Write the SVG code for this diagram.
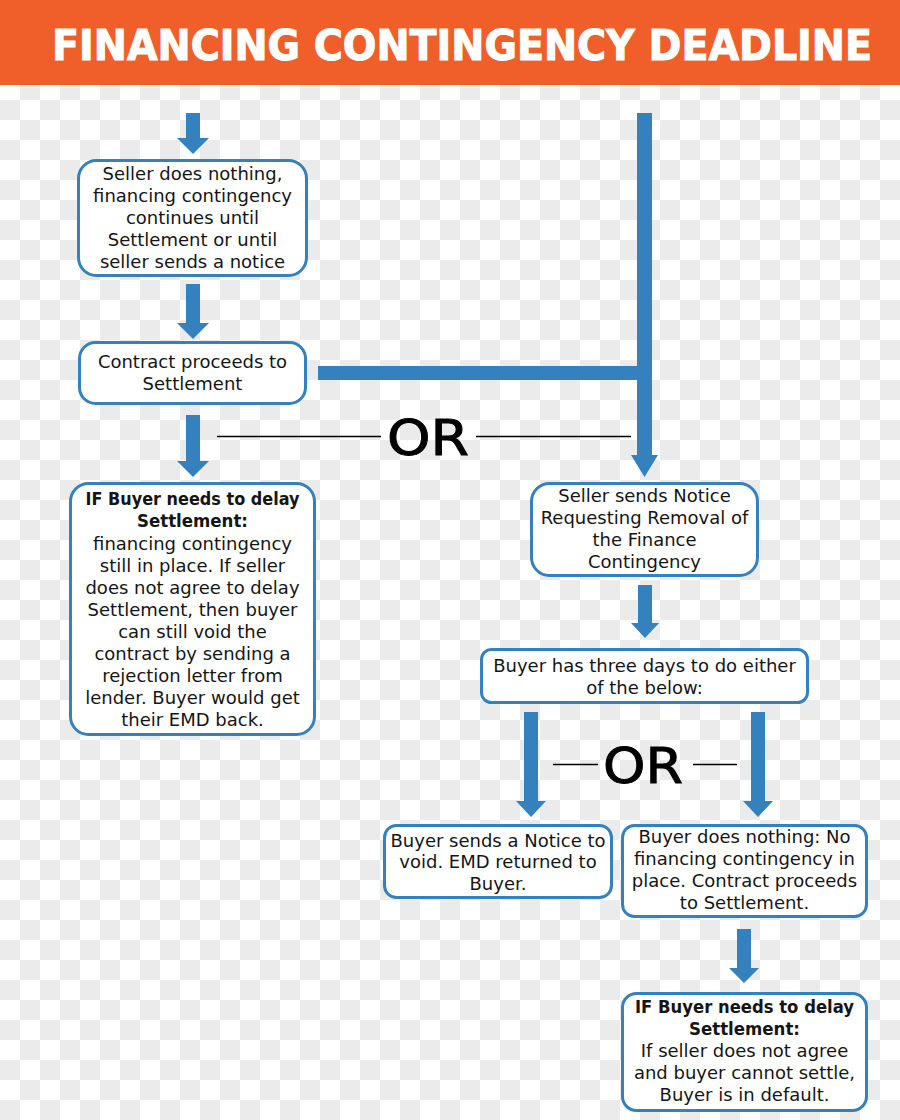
<svg xmlns="http://www.w3.org/2000/svg" width="900" height="1120" viewBox="0 0 900 1120">
  <defs>
    <pattern id="checker" x="0" y="0" width="40" height="40" patternUnits="userSpaceOnUse">
      <rect x="0" y="0" width="40" height="40" fill="#ffffff"/>
      <rect x="20" y="0" width="20" height="20" fill="#ebebeb"/>
      <rect x="0" y="20" width="20" height="20" fill="#ebebeb"/>
    </pattern>
  </defs>
  <style>
    .box { fill: #ffffff; stroke: #3581be; stroke-width: 3; }
    .arrow { fill: #3581be; }
    .t { font-family: "DejaVu Sans", "Liberation Sans", sans-serif; font-size: 18px; fill: #151515; text-anchor: middle; }
    .b { font-weight: bold; }
    .or { font-family: "DejaVu Sans", "Liberation Sans", sans-serif; font-size: 50px; fill: #000000; stroke: #000000; stroke-width: 1; }
    .rule { stroke: #000000; stroke-width: 1.5; }
    .title { font-family: "DejaVu Sans", "Liberation Sans", sans-serif; font-weight: bold; font-size: 40px; fill: #ffffff; stroke: #ffffff; stroke-width: 1; }
  </style>

  <rect x="0" y="0" width="900" height="1120" fill="url(#checker)"/>

  <g id="header">
    <rect x="0" y="0" width="900" height="85" fill="#f05f2a"/>
    <text class="title" x="0" y="0" transform="translate(52,60) scale(1,1.06)" textLength="820" lengthAdjust="spacingAndGlyphs">FINANCING CONTINGENCY DEADLINE</text>
  </g>

  <g id="connectors">
    <path class="arrow" d="M186,113 H200 V138 H209 L193,154 L177,138 H186 Z"/>
    <path class="arrow" d="M186,284 H200 V323 H209 L193,339 L177,323 H186 Z"/>
    <path class="arrow" d="M186,415 H200 V461 H209 L193,477 L177,461 H186 Z"/>
    <rect class="arrow" x="318" y="366" width="334" height="14"/>
    <path class="arrow" d="M637,113 H652 V455 H658 L644.5,477 L631,455 H637 Z"/>
    <path class="arrow" d="M638,585 H652 V623 H659 L645,638 L631,623 H638 Z"/>
    <path class="arrow" d="M524,712 H538 V801 H546 L531,817 L516,801 H524 Z"/>
    <path class="arrow" d="M751,712 H765 V801 H773 L758,817 L743,801 H751 Z"/>
    <path class="arrow" d="M737,929 H751 V968 H759 L744,983 L729,968 H737 Z"/>
  </g>

  <g id="or1">
    <line class="rule" x1="217" y1="436.5" x2="381" y2="436.5"/>
    <text class="or" x="387" y="455" textLength="82" lengthAdjust="spacingAndGlyphs">OR</text>
    <line class="rule" x1="476" y1="436.5" x2="631" y2="436.5"/>
  </g>

  <g id="or2">
    <line class="rule" x1="553" y1="764.5" x2="598" y2="764.5"/>
    <text class="or" x="603" y="783" textLength="80" lengthAdjust="spacingAndGlyphs">OR</text>
    <line class="rule" x1="693" y1="764.5" x2="737" y2="764.5"/>
  </g>

  <g id="node-seller-nothing">
    <rect class="box" x="78.5" y="160.5" width="228" height="115" rx="18"/>
    <text class="t" x="192.5" y="180">Seller does nothing,</text>
    <text class="t" x="192.5" y="202">financing contingency</text>
    <text class="t" x="192.5" y="224">continues until</text>
    <text class="t" x="192.5" y="246">Settlement or until</text>
    <text class="t" x="192.5" y="268">seller sends a notice</text>
  </g>

  <g id="node-contract-proceeds">
    <rect class="box" x="79.5" y="342.5" width="226" height="61" rx="16"/>
    <text class="t" x="192.5" y="368">Contract proceeds to</text>
    <text class="t" x="192.5" y="390">Settlement</text>
  </g>

  <g id="node-buyer-delay-1">
    <rect class="box" x="70.5" y="483.5" width="244" height="251" rx="18"/>
    <text class="t b" x="192.5" y="505" textLength="214" lengthAdjust="spacingAndGlyphs">IF Buyer needs to delay</text>
    <text class="t b" x="192.5" y="527" textLength="111" lengthAdjust="spacingAndGlyphs">Settlement:</text>
    <text class="t" x="192.5" y="550">financing contingency</text>
    <text class="t" x="192.5" y="572">still in place. If seller</text>
    <text class="t" x="192.5" y="594">does not agree to delay</text>
    <text class="t" x="192.5" y="616">Settlement, then buyer</text>
    <text class="t" x="192.5" y="638">can still void the</text>
    <text class="t" x="192.5" y="660">contract by sending a</text>
    <text class="t" x="192.5" y="682">rejection letter from</text>
    <text class="t" x="192.5" y="704">lender. Buyer would get</text>
    <text class="t" x="192.5" y="726">their EMD back.</text>
  </g>

  <g id="node-seller-notice">
    <rect class="box" x="531.5" y="483.5" width="226" height="92" rx="18"/>
    <text class="t" x="644.5" y="502">Seller sends Notice</text>
    <text class="t" x="644.5" y="524">Requesting Removal of</text>
    <text class="t" x="644.5" y="546">the Finance</text>
    <text class="t" x="644.5" y="568">Contingency</text>
  </g>

  <g id="node-three-days">
    <rect class="box" x="481.5" y="649.5" width="326" height="53" rx="10"/>
    <text class="t" x="644.5" y="672">Buyer has three days to do either</text>
    <text class="t" x="644.5" y="694">of the below:</text>
  </g>

  <g id="node-buyer-void">
    <rect class="box" x="384.5" y="825.5" width="227" height="72" rx="12"/>
    <text class="t" x="498" y="847">Buyer sends a Notice to</text>
    <text class="t" x="498" y="868">void. EMD returned to</text>
    <text class="t" x="498" y="890">Buyer.</text>
  </g>

  <g id="node-buyer-nothing">
    <rect class="box" x="622.5" y="825.5" width="244" height="91" rx="12"/>
    <text class="t" x="744.5" y="843">Buyer does nothing: No</text>
    <text class="t" x="744.5" y="865">financing contingency in</text>
    <text class="t" x="744.5" y="887">place. Contract proceeds</text>
    <text class="t" x="744.5" y="909">to Settlement.</text>
  </g>

  <g id="node-buyer-delay-2">
    <rect class="box" x="622.5" y="993.5" width="244" height="117" rx="14"/>
    <text class="t b" x="744.5" y="1013" textLength="219" lengthAdjust="spacingAndGlyphs">IF  Buyer needs to delay</text>
    <text class="t b" x="744.5" y="1035" textLength="111" lengthAdjust="spacingAndGlyphs">Settlement:</text>
    <text class="t" x="744.5" y="1057">If seller does not agree</text>
    <text class="t" x="744.5" y="1079">and buyer cannot settle,</text>
    <text class="t" x="744.5" y="1101">Buyer is in default.</text>
  </g>
</svg>
